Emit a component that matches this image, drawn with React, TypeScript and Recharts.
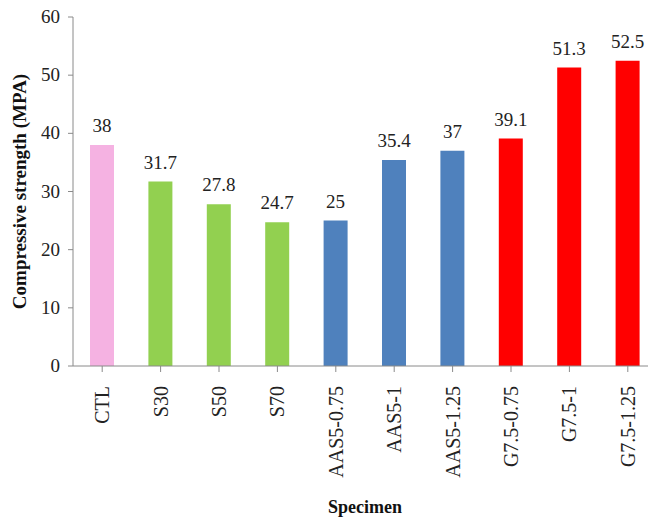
import { BarChart, Bar, XAxis, YAxis, Cell, LabelList } from 'recharts';

const specimens = ['CTL', 'S30', 'S50', 'S70', 'AAS5-0.75', 'AAS5-1', 'AAS5-1.25', 'G7.5-0.75', 'G7.5-1', 'G7.5-1.25'];
const strength = [38, 31.7, 27.8, 24.7, 25, 35.4, 37, 39.1, 51.3, 52.5];
const barColors = ['#F5B2E2', '#92D050', '#92D050', '#92D050', '#4F81BD', '#4F81BD', '#4F81BD', '#FF0000', '#FF0000', '#FF0000'];
const yTicks = [0, 10, 20, 30, 40, 50, 60];

const data = specimens.map((name, i) => ({ name, value: strength[i] }));

const serif = '"Liberation Serif", "Times New Roman", serif';

function RotatedTick({ x, y, payload }: any) {
  return (
    <text
      x={0}
      y={0}
      transform={`translate(${x + 7},${y + 12}) rotate(-90)`}
      textAnchor="end"
      fontSize={20}
      fontFamily={serif}
      fill="#222"
    >
      {payload.value}
    </text>
  );
}

function YTick({ x, y, payload }: any) {
  return (
    <text x={x} y={y} dy={6} textAnchor="end" fontSize={19} fontFamily={serif} fill="#222">
      {payload.value}
    </text>
  );
}

function YLabel({ viewBox }: any) {
  const cy = viewBox.y + viewBox.height / 2;
  return (
    <text
      x={0}
      y={0}
      transform={`translate(26,${cy}) rotate(-90)`}
      textAnchor="middle"
      fontSize={19}
      fontWeight="bold"
      fontFamily={serif}
      fill="#111"
    >
      Compressive strength (MPA)
    </text>
  );
}

function ValueLabel({ x, y, width, value }: any) {
  return (
    <text x={x + width / 2} y={y - 13} textAnchor="middle" fontSize={19} fontFamily={serif} fill="#222">
      {value}
    </text>
  );
}

export default function App() {
  return (
    <div
      style={{
        position: 'absolute',
        left: 0,
        top: 0,
        width: 648,
        height: 517,
        overflow: 'hidden',
        background: '#fff',
        fontFamily: serif,
      }}
    >
      <BarChart
        width={657}
        height={517}
        data={data}
        margin={{ top: 17, right: 0, bottom: 0, left: 0 }}
        barSize={24}
      >
        <XAxis
          dataKey="name"
          interval={0}
          height={151}
          tick={<RotatedTick />}
          tickSize={6}
          axisLine={{ stroke: '#8a8a8a' }}
          tickLine={{ stroke: '#8a8a8a' }}
          label={{
            value: 'Specimen',
            position: 'insideBottom',
            offset: 4,
            style: { fontFamily: serif, fontWeight: 'bold', fontSize: 18, fill: '#111' },
          }}
        />
        <YAxis
          domain={[0, 60]}
          ticks={yTicks}
          width={73}
          tickSize={5}
          tickMargin={8}
          axisLine={{ stroke: '#8a8a8a' }}
          tickLine={{ stroke: '#8a8a8a' }}
          tick={<YTick />}
          label={<YLabel />}
        />
        <Bar dataKey="value" isAnimationActive={false}>
          {data.map((d, i) => (
            <Cell key={d.name} fill={barColors[i]} />
          ))}
          <LabelList dataKey="value" content={<ValueLabel />} />
        </Bar>
      </BarChart>
    </div>
  );
}
